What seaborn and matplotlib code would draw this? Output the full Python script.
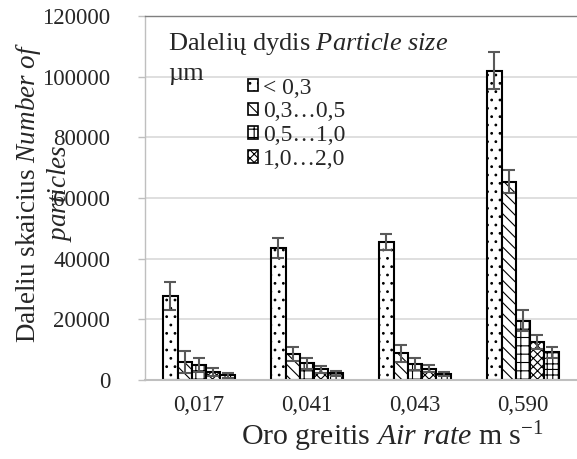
import matplotlib
matplotlib.use('Agg')
import matplotlib.pyplot as plt
from matplotlib.patches import Patch
from matplotlib.container import BarContainer
import seaborn as sns
import pandas as pd

air_rates = ['0,017', '0,041', '0,043', '0,590']
size_classes = ['< 0,3', '0,3…0,5', '0,5…1,0', '1,0…2,0', '> 2,0']

count_lt03 = [27700, 43500, 45500, 102000]
count_03_05 = [5900, 8600, 8800, 65400]
count_05_10 = [4900, 5500, 5200, 19600]
count_10_20 = [2500, 3500, 3700, 12600]
count_gt20 = [1500, 2200, 2000, 9100]

err_lt03 = [4500, 3300, 2500, 6000]
err_03_05 = [3500, 2300, 2800, 3800]
err_05_10 = [2200, 1900, 2000, 3500]
err_10_20 = [1300, 1200, 1100, 2400]
err_gt20 = [900, 800, 800, 1900]

y_ticks = [0, 20000, 40000, 60000, 80000, 100000, 120000]

counts = [count_lt03, count_03_05, count_05_10, count_10_20, count_gt20]
errs = [err_lt03, err_03_05, err_05_10, err_10_20, err_gt20]
hatches = ['..', '\\\\\\', '++', 'xxxx', '+++']

rows = []
for s, c, e in zip(size_classes, counts, errs):
    for r, v, ev in zip(air_rates, c, e):
        rows.append({'rate': r, 'size': s, 'count': v, 'err': ev})
df = pd.DataFrame(rows)

sns.set_theme(style='white')
plt.rcParams['font.family'] = ['Liberation Serif', 'DejaVu Serif']
plt.rcParams['mathtext.fontset'] = 'custom'
plt.rcParams['mathtext.rm'] = 'Liberation Serif'
plt.rcParams['mathtext.it'] = 'Liberation Serif:italic'
plt.rcParams['hatch.linewidth'] = 0.8
plt.rcParams['hatch.color'] = 'black'

fig = plt.figure(figsize=(5.77, 4.59), dpi=100)
ax = fig.add_axes([145 / 577, 1 - 380 / 459, 432 / 577, 364 / 459])

sns.barplot(data=df, x='rate', y='count', hue='size', order=air_rates,
            hue_order=size_classes, palette=['white'] * 5, edgecolor='black',
            linewidth=1.5, errorbar=None, width=0.66, ax=ax, saturation=1)

bar_containers = [c for c in ax.containers if isinstance(c, BarContainer)]
for i, cont in enumerate(bar_containers):
    xs = []
    for bar in cont.patches:
        bar.set_hatch(hatches[i])
        xs.append(bar.get_x() + bar.get_width() / 2)
    ax.errorbar(xs, counts[i], yerr=errs[i], fmt='none', ecolor='#595959',
                elinewidth=1.5, capsize=4.5, capthick=1.5, zorder=5)

if ax.get_legend() is not None:
    ax.get_legend().remove()

ax.set_xlim(-0.5, 3.5)
ax.set_ylim(0, 120000)
ax.set_yticks(y_ticks)
ax.set_yticklabels([str(t) for t in y_ticks])
ax.yaxis.grid(True, color='#d9d9d9', lw=1.2)
ax.set_axisbelow(True)

for sp in ['left', 'bottom']:
    ax.spines[sp].set_color('#bfbfbf')
ax.spines['bottom'].set_linewidth(1.5)
ax.spines['left'].set_linewidth(1.0)
ax.spines['top'].set_color('#7f7f7f')
ax.spines['top'].set_linewidth(1.0)
ax.spines['right'].set_visible(False)

ax.tick_params(axis='y', which='major', left=True, direction='out', length=5,
               color='#bfbfbf', width=1, labelsize=16.5, pad=20)
ax.tick_params(axis='x', length=0, labelsize=16.5, pad=11)

ax.set_xlabel('Oro greitis $\\mathit{Air\\ rate}$ m s$^{\\mathrm{-1}}$', fontsize=21.5)
ax.xaxis.set_label_coords(0.572, -0.157)
ax.xaxis.label.set_verticalalignment('center')

ax.set_ylabel('Daleliu skaicius $\\mathit{Number\\ of}$\n$\\mathit{particles}$',
              fontsize=19.5, linespacing=1.1, multialignment='center')
ax.yaxis.set_label_coords(-0.234, 0.514)
ax.yaxis.label.set_verticalalignment('center')
ax.yaxis.label.set_horizontalalignment('center')

ax.text(0.053, 0.907, 'Dalelių dydis $\\mathit{Particle\\ size}$', transform=ax.transAxes,
        fontsize=19, ha='left', va='baseline')
ax.text(0.053, 0.824, 'µm', transform=ax.transAxes, fontsize=19, ha='left', va='baseline')

handles = [Patch(facecolor='white', edgecolor='black', hatch=h, linewidth=1.2)
           for h in hatches[:4]]
ax.legend(handles, size_classes[:4], loc='upper left', bbox_to_anchor=(0.238, 0.831),
          frameon=False, fontsize=17, handlelength=0.45, handleheight=0.45,
          handletextpad=0.2, labelspacing=0.12, borderpad=0, borderaxespad=0)

fig.savefig('out.png', dpi=100)
